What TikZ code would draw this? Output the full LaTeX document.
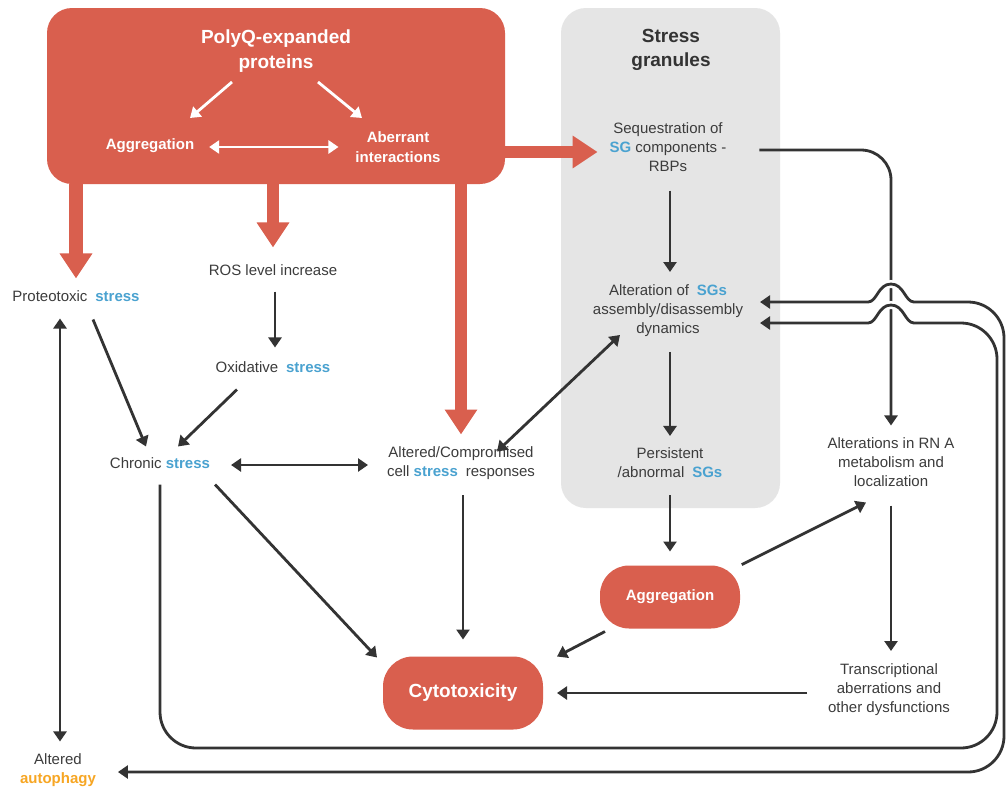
\documentclass[tikz,border=0pt]{standalone}
\usepackage{fontspec}
\setmainfont{Liberation Sans}
\usetikzlibrary{arrows.meta,calc}
\definecolor{pqred}{RGB}{217,95,78}
\definecolor{sgblue}{RGB}{74,162,208}
\definecolor{apor}{RGB}{247,166,35}
\definecolor{sggray}{RGB}{229,229,229}
\definecolor{dk}{RGB}{51,51,51}
\definecolor{txt}{RGB}{60,60,60}
\newcommand\hl[1]{\textcolor{sgblue}{\bfseries #1}}
\newcommand\xs{\hspace{0.25em}}
\begin{document}
\begin{tikzpicture}[x=1pt,y=-1pt,
  lbl/.style={font=\fontsize{15}{19}\selectfont, text=txt, align=center, inner sep=0pt, outer sep=0pt},
  wlbl/.style={font=\fontsize{15}{20}\selectfont\bfseries, text=white, align=center, inner sep=0pt, outer sep=0pt},
  ttl/.style={font=\fontsize{19}{24.5}\selectfont\bfseries, align=center, inner sep=0pt, outer sep=0pt},
  pill/.style={fill=pqred, inner sep=0pt, outer sep=0pt, text=white, align=center},
  arr/.style={draw=dk, line width=2.8pt, -{Triangle[length=10pt,width=13pt]}},
  darr/.style={draw=dk, line width=2.8pt, {Triangle[length=10pt,width=13pt]}-{Triangle[length=10pt,width=13pt]}},
  warr/.style={draw=white, line width=2.8pt, -{Triangle[length=10pt,width=13pt]}},
  wdarr/.style={draw=white, line width=2.8pt, {Triangle[length=10pt,width=13pt]}-{Triangle[length=10pt,width=13pt]}},
  rarr/.style={draw=pqred, line width=12pt, -{Triangle[length=25pt,width=31pt]}},
  knock/.style={draw=white, line width=8pt},
]
\useasboundingbox (0,0) rectangle (1008,787);
\fill[white] (0,0) rectangle (1008,787);

% containers
\node[fill=pqred, rounded corners=25pt, minimum width=458pt, minimum height=176pt, inner sep=0pt] (pq) at (276,96) {};
\node[fill=sggray, rounded corners=25pt, minimum width=219pt, minimum height=500pt, inner sep=0pt] (sg) at (670.5,258) {};

% text nodes
\node[ttl, text=white] (title) at (276,51) {PolyQ-expanded\\proteins};
\node[wlbl] (aggL) at (150,146) {Aggregation};
\node[wlbl] (aber) at (398,147) {Aberrant\\interactions};
\node[ttl, text=dk] (sgt) at (671,50) {Stress\\granules};
\node[lbl] (seq) at (668,147) {Sequestration of\\\hl{SG} components -\\RBPs};
\node[lbl] (alt) at (668,311) {Alteration of\xs{} \hl{SGs}\\assembly/disassembly\\dynamics};
\node[lbl] (pers) at (670,463) {Persistent\\/abnormal\xs{} \hl{SGs}};
\node[pill, rounded corners=29pt, minimum width=140pt, minimum height=63pt, font=\fontsize{15}{18}\selectfont\bfseries] (agg2) at (670,597) {Aggregation};
\node[pill, rounded corners=30pt, minimum width=160pt, minimum height=73pt, font=\fontsize{19}{22}\selectfont\bfseries] (cyto) at (463,693) {Cytotoxicity};
\node[lbl] (rna) at (891,462) {Alterations in RN A\\metabolism and\\localization};
\node[lbl] (trans) at (889,690) {Transcriptional\\aberrations and\\other dysfunctions};
\node[lbl] (acs) at (461,463) {Altered/Compromised\\cell \hl{stress}\xs{} responses};
\node[lbl] (chronic) at (160,463) {Chronic \hl{stress}};
\node[lbl] (prot) at (76,296) {Proteotoxic\xs{} \hl{stress}};
\node[lbl] (ros) at (273,270) {ROS level increase};
\node[lbl] (ox) at (273,367) {Oxidative\xs{} \hl{stress}};
\node[lbl] (autoph) at (58,770) {Altered\\\textcolor{apor}{\bfseries autophagy}};

% red arrows
\draw[rarr, line width=14pt] (pq.south -| prot) -- ($(prot.north)+(0,-12)$);
\draw[rarr] (pq.south -| ros) -- ($(ros.north)+(0,-17)$);
\draw[rarr] (pq.south -| acs) -- ($(acs.north)+(0,-12)$);
\draw[rarr] ($(pq.east |- seq)+(0,5)$) -- ($(seq.west)+(-12,5)$);

% white arrows inside the red box
\draw[warr] ($(title)+(-44,31)$) -- ($(aggL)+(40,-28)$);
\draw[warr] ($(title)+(42,31)$) -- ($(aber)+(-36,-29)$);
\draw[wdarr] ($(aggL.east)+(15,1)$) -- ($(aber.west |- aggL.east)+(-17,1)$);

% stress granule chain
\draw[arr] ($(seq.south)+(2,19)$) -- ($(alt.north)+(2,-13)$);
\draw[arr] ($(alt.south)+(2,15)$) -- ($(pers.north)+(0,-12)$);
\draw[arr] ($(pers.south)+(0,17)$) -- ($(agg2.north)+(0,-14)$);
\draw[arr, shorten <=2pt] (agg2.north east) -- ($(rna.south)+(-25,16)$);
\draw[arr] ($(agg2.south west)+(5,3)$) -- ($(cyto.north east)+(14,0)$);
\draw[arr] ($(trans.west)+(-21,3)$) -- ($(cyto.east |- trans.west)+(14,3)$);
\draw[arr] ($(rna.south)+(0,19)$) -- ($(rna.south |- trans.north)+(0,-13)$);

% left part
\draw[arr] ($(acs.south)+(2,16)$) -- ($(cyto.north)+(0,-17)$);
\draw[darr] ($(acs.north)+(36,5)$) -- ($(alt.south west)+(27,-2)$);
\draw[darr] ($(chronic.east)+(21,2)$) -- ($(acs.west |- chronic.east)+(-19,2)$);
\draw[arr] ($(chronic.south east)+(5,16)$) -- ($(cyto.north west)+(-6,1)$);
\draw[arr] ($(prot.south)+(17,18)$) -- ($(chronic.north)+(-14,-11)$);
\draw[arr] ($(ros.south)+(2,16)$) -- ($(ox.north)+(2,-14)$);
\draw[arr] ($(ox.south)+(-36,17)$) -- ($(chronic.north)+(18,-11)$);
\draw[darr] ($(prot.south)+(-16,17)$) -- ($(autoph.north)+(2,-12)$);

% sequestration -> RNA (crossed by hops)
\draw[arr, rounded corners=30pt] ($(seq.east)+(33,3)$) -- ($(rna.north |- seq.east)+(0,3)$) -- ($(rna.north)+(0,-12)$);

% knock-outs for the hops
\path[knock] (868,302) .. controls (877,302) and (878,284) .. (891,284) .. controls (904,284) and (905,302) .. (914,302);
\path[knock] (868,323) .. controls (877,323) and (878,305) .. (891,305) .. controls (904,305) and (905,323) .. (914,323);

% outer loop: SGs <-> autophagy
\draw[darr] ($(alt.east)+(17,-9)$) -- (868,302) .. controls (877,302) and (878,284) .. (891,284) .. controls (904,284) and (905,302) .. (914,302) [rounded corners=36pt] -- (1004,302) -- (1004,772) -- ($(autoph.east)+(22,2)$);

% inner loop: chronic stress -> SGs
\draw[draw=dk, line width=2.8pt, {Triangle[length=10pt,width=13pt]}-] ($(alt.east)+(17,12)$) -- (868,323) .. controls (877,323) and (878,305) .. (891,305) .. controls (904,305) and (905,323) .. (914,323) [rounded corners=36pt] -- (997,323) -- (997,748) -- (160,748) -- ($(chronic.south)+(0,16)$);
\end{tikzpicture}
\end{document}
